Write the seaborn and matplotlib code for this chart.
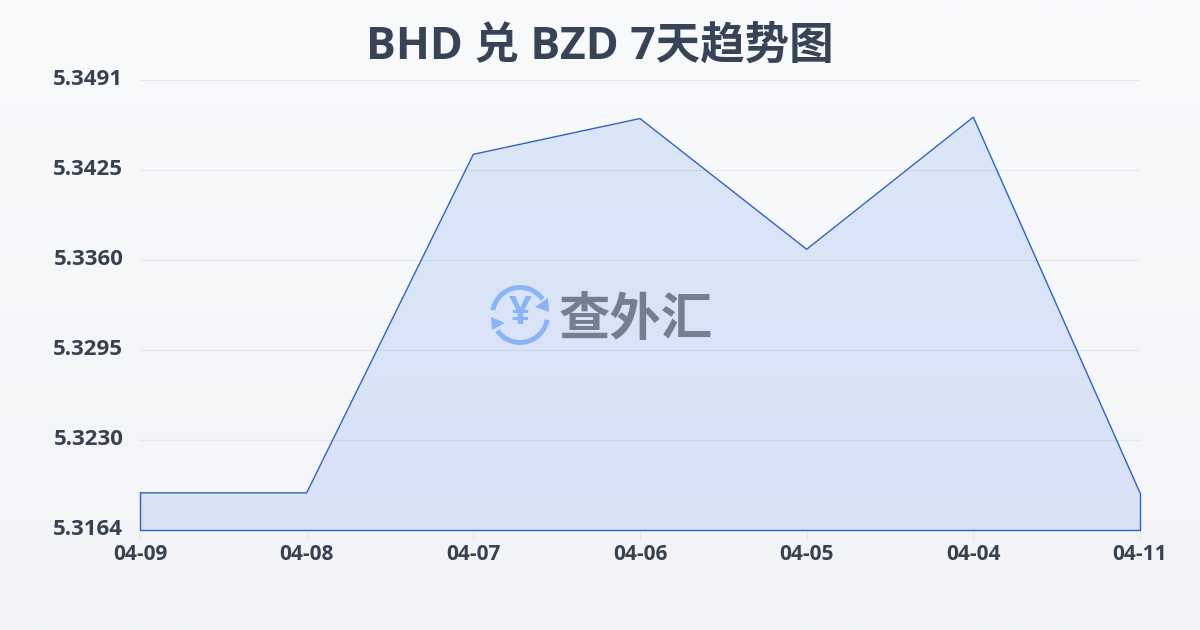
import numpy as np
import pandas as pd
import matplotlib
matplotlib.use("Agg")
import matplotlib.pyplot as plt
from matplotlib.patches import Arc
from matplotlib.transforms import ScaledTranslation
import seaborn as sns

dates = ["04-09", "04-08", "04-07", "04-06", "04-05", "04-04", "04-11"]
rates = [5.3191, 5.3191, 5.3437, 5.3463, 5.3368, 5.3464, 5.3191]
y_labels = ["5.3164", "5.3230", "5.3295", "5.3360", "5.3425", "5.3491"]
y_min = 5.3164
y_max = 5.3491

sns.set_theme(style="white")
plt.rcParams["font.family"] = ["Open Sans", "Noto Sans CJK SC", "DejaVu Sans"]

df = pd.DataFrame({"date": dates, "rate": rates, "pos": range(len(dates))})
text_color = "#374151"
line_color = "#2f62c9"

fig = plt.figure(figsize=(12, 6.3), dpi=100)

# page background, light vertical gradient
bg = fig.add_axes([0, 0, 1, 1], zorder=0)
bg.imshow(np.linspace(0, 1, 256).reshape(-1, 1), aspect="auto",
          cmap=matplotlib.colors.LinearSegmentedColormap.from_list("bg", ["#f8fafc", "#f2f4f7"]))
bg.axis("off")

ax = fig.add_axes([140 / 1200, 1 - 530 / 630, 1000 / 1200, 450 / 630], zorder=1)
ax.patch.set_alpha(0)
ax.set_xlim(0, len(dates) - 1)
ax.set_ylim(y_min, y_max)

y_ticks = np.linspace(y_min, y_max, len(y_labels))
for t in y_ticks[1:]:
    ax.axhline(t, color="#e5e7eb", lw=0.8, zorder=1)

ax.fill_between(df["pos"], df["rate"], y_min, color="#2563eb", alpha=0.125, lw=0, zorder=2)
sns.lineplot(data=df, x="pos", y="rate", color=line_color, lw=1, ax=ax, zorder=3, clip_on=False)
# outline closes along the sides and the bottom of the area
ax.plot([0, 0, len(dates) - 1, len(dates) - 1], [rates[0], y_min, y_min, rates[-1]],
        color=line_color, lw=1, zorder=3, clip_on=False)

for s in ax.spines.values():
    s.set_visible(False)
ax.set_xlabel("")
ax.set_ylabel("")
ax.set_xticks(df["pos"])
ax.set_xticklabels(dates, fontsize=15, fontweight="bold", color=text_color)
ax.tick_params(axis="x", length=7, width=0.8, color="#e5e7eb", pad=3, bottom=True)
ax.set_yticks(y_ticks)
ax.set_yticklabels(y_labels, fontsize=16, fontweight="bold", color=text_color)
ax.tick_params(axis="y", length=0, pad=12)
# y labels sit slightly above their gridlines
up = ScaledTranslation(0, 2 / 72, fig.dpi_scale_trans)
for lab in ax.get_yticklabels():
    lab.set_transform(lab.get_transform() + up)

fig.text(0.5, 1 - 47 / 630, "BHD 兑 BZD 7天趋势图", ha="center", va="center",
         fontsize=32, fontweight="bold", color="#374357")

# watermark: logo and name
over = fig.add_axes([0, 0, 1, 1], zorder=2)
over.set_xlim(0, 1200)
over.set_ylim(630, 0)
over.axis("off")
blue = "#8ab4f8"
gray = "#767f90"
cx, cy = 520, 315
over.add_patch(Arc((cx, cy), 55, 55, theta1=190, theta2=325, color=blue, lw=3.5))
over.add_patch(Arc((cx, cy), 55, 55, theta1=10, theta2=145, color=blue, lw=3.5))
over.fill([548, 549, 535], [298, 312, 307], color=blue, lw=0)
over.fill([491, 492, 505], [317, 330, 323], color=blue, lw=0)
over.text(cx, cy - 1, "¥", ha="center", va="center", fontsize=29, fontweight="bold",
          color=blue)
over.text(636, 319, "查外汇", ha="center", va="center", fontsize=37, fontweight="bold",
          color=gray, family=["Noto Sans CJK SC"])

fig.savefig("out.png", dpi=100)
